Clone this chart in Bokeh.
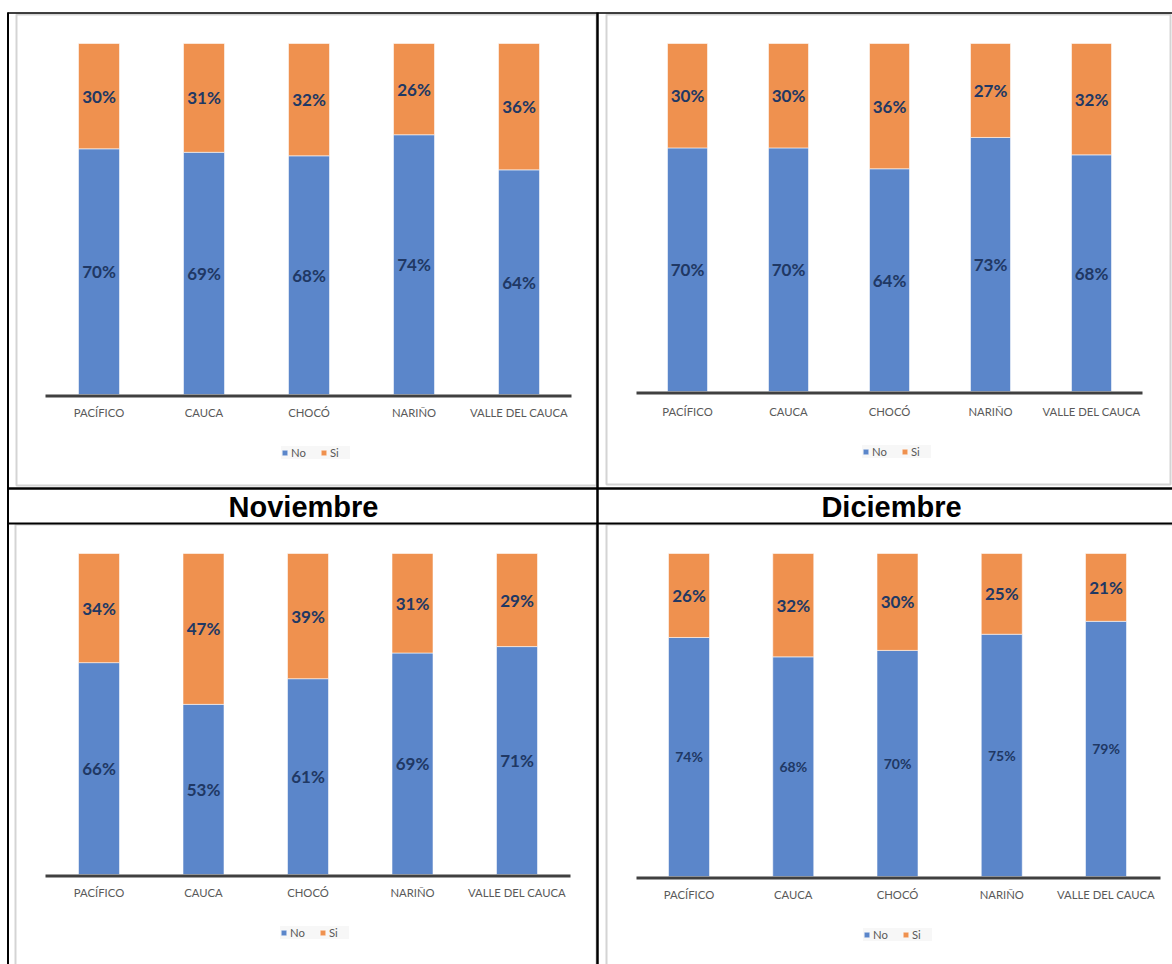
from bokeh.plotting import figure
from bokeh.models import Range1d, Legend, LegendItem, ColumnDataSource
from bokeh.core.properties import value
from bokeh.embed import file_html
from bokeh.resources import INLINE

# ---------------- data ----------------
categories = ["PACÍFICO", "CAUCA", "CHOCÓ", "NARIÑO", "VALLE DEL CAUCA"]
series_names = ["No", "Si"]
top_left_no = [70, 69, 68, 74, 64]
top_left_si = [30, 31, 32, 26, 36]
top_right_no = [70, 70, 64, 73, 68]
top_right_si = [30, 30, 36, 27, 32]
noviembre_no = [66, 53, 61, 69, 71]
noviembre_si = [34, 47, 39, 31, 29]
diciembre_no = [74, 68, 70, 75, 79]
diciembre_si = [26, 32, 30, 25, 21]
titles = ["Noviembre", "Diciembre"]

# ---------------- styles / layout ----------------
BLUE = "#5B86CA"
ORANGE = "#EF914F"
LABEL_COLOR = "#203864"
CAT_COLOR = "#595959"
AXIS_COLOR = "#404040"
W, H = 1172, 964
OFF = 0
FONT = "Lato"

panels = [
    dict(no=top_left_no, si=top_left_si, c0=98.5, dx=105.0, bw=41, top=43, base=394,
         ax=(45, 571), lab=412, leg=(313, 449), nofs="17px"),
    dict(no=top_right_no, si=top_right_si, c0=687.0, dx=101.0, bw=40, top=43, base=391,
         ax=(636, 1142), lab=411, leg=(894, 448), nofs="17px"),
    dict(no=noviembre_no, si=noviembre_si, c0=98.5, dx=104.5, bw=41, top=553, base=874,
         ax=(45, 570), lab=892, leg=(312, 929), nofs="17px"),
    dict(no=diciembre_no, si=diciembre_si, c0=688.5, dx=104.25, bw=41, top=553, base=876,
         ax=(636, 1160), lab=894, leg=(895, 931), nofs="14px"),
]

p = figure(width=W, height=H, x_range=Range1d(OFF, OFF + W), y_range=Range1d(OFF + H, OFF),
           output_backend="svg", toolbar_location=None, min_border=0,
           x_axis_location=None, y_axis_location=None)
p.grid.visible = False
p.outline_line_color = None
p.background_fill_color = "white"
p.border_fill_color = "white"

# extra ranges per panel
xr, yr = {}, {}
for k, pn in enumerate(panels):
    xr[f"x{k}"] = Range1d((OFF - pn["c0"]) / pn["dx"], (OFF + W - pn["c0"]) / pn["dx"])
    span = pn["base"] - pn["top"]
    yr[f"y{k}"] = Range1d((pn["base"] - (OFF + H)) / span * 100, (pn["base"] - OFF) / span * 100)
p.extra_x_ranges = xr
p.extra_y_ranges = yr

# light grey chart frames
p.quad(left=[16, 606, 15, 606], right=[596, 1170, 596, 1175], top=[14, 14, 524, 524],
       bottom=[485, 484, 975, 975], fill_color=None, line_color="#D4D4D4", line_width=2)

for k, pn in enumerate(panels):
    xn, yn = f"x{k}", f"y{k}"
    idx = list(range(len(categories)))
    src = ColumnDataSource(dict(x=idx, No=pn["no"], Si=pn["si"]))
    rs = p.vbar_stack(series_names, x="x", width=pn["bw"] / pn["dx"], source=src,
                      fill_color=[BLUE, ORANGE], line_color="white", line_alpha=0.55,
                      line_width=1, x_range_name=xn, y_range_name=yn)
    # axis line
    p.segment(x0=[pn["ax"][0]], x1=[pn["ax"][1]], y0=[pn["base"] + 1.5], y1=[pn["base"] + 1.5],
              line_color=AXIS_COLOR, line_width=3)
    # category labels
    p.text(x=idx, y=[0] * len(idx), text=categories, y_offset=pn["lab"] - pn["base"],
           x_range_name=xn, y_range_name=yn, text_align="center", text_baseline="middle",
           text_font=value(FONT), text_font_size="11.3px", text_color=CAT_COLOR)
    # value labels
    no_mid = [v / 2 for v in pn["no"]]
    si_mid = [n + s / 2 for n, s in zip(pn["no"], pn["si"])]
    p.text(x=idx, y=no_mid, text=[f"{v}%" for v in pn["no"]], x_range_name=xn, y_range_name=yn,
           text_align="center", text_baseline="middle", text_font=value(FONT),
           text_font_style="bold", text_font_size=pn["nofs"], text_color=LABEL_COLOR)
    p.text(x=idx, y=si_mid, text=[f"{v}%" for v in pn["si"]], x_range_name=xn, y_range_name=yn,
           text_align="center", text_baseline="middle", text_font=value(FONT),
           text_font_style="bold", text_font_size="17px", text_color=LABEL_COLOR)
    # legend
    lw, lh = 64, 19
    lx = pn["leg"][0] - lw / 2
    lb = pn["leg"][1] + lh / 2
    leg = Legend(items=[LegendItem(label=series_names[0], renderers=[rs[0]]),
                        LegendItem(label=series_names[1], renderers=[rs[1]])],
                 location=(lx - OFF, OFF + H - lb), orientation="horizontal",
                 glyph_width=7, glyph_height=7, label_standoff=3, spacing=9, padding=4,
                 margin=0, label_height=11, label_text_font=FONT, label_text_font_size="11.3px",
                 label_text_color=CAT_COLOR, background_fill_color="#F7F7F7",
                 background_fill_alpha=1.0, border_line_color=None)
    p.add_layout(leg)

# table lines
p.segment(x0=[7, 7, 7], x1=[1172, 1172, 1172], y0=[12.5, 488, 523], y1=[12.5, 488, 523],
          line_color="black", line_width=[1.5, 2.5, 2])
p.segment(x0=[7.5, 597], x1=[7.5, 597], y0=[12, 12], y1=[964, 964],
          line_color="black", line_width=[2, 2.5])

# month titles
p.text(x=[303, 891], y=[506, 506], text=titles, text_align="center", text_baseline="middle",
       text_font=value("Liberation Sans"), text_font_style="bold", text_font_size="29px",
       text_color="black")

open("out.html", "w").write(file_html(p, INLINE))
